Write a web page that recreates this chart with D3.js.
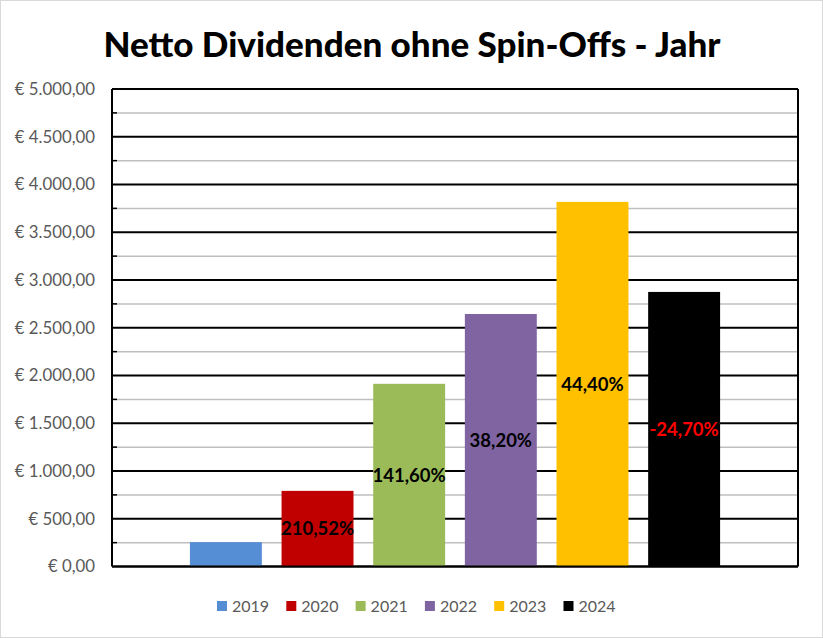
<!DOCTYPE html>
<html>
<head>
<meta charset="utf-8">
<script src="https://cdn.jsdelivr.net/npm/d3@7"></script>
<style>
  body { margin: 0; background: #fff; }
  svg { display: block; }
</style>
</head>
<body>
<svg id="chart" width="823" height="638"></svg>
<script>
// data
var years = ["2019", "2020", "2021", "2022", "2023", "2024"]
var amounts = [255, 792, 1913, 2644, 3818, 2875]
var growth = ["", "210,52%", "141,60%", "38,20%", "44,40%", "-24,70%"]
var colors = ["#558ed5", "#c00000", "#9bbb59", "#8064a2", "#ffc000", "#000000"]
var labelColors = ["#000", "#000", "#000", "#000", "#000", "#ff0000"]
var yTicks = [0, 500, 1000, 1500, 2000, 2500, 3000, 3500, 4000, 4500, 5000]
var yMinor = [250, 750, 1250, 1750, 2250, 2750, 3250, 3750, 4250, 4750]

var font = "Lato, 'Open Sans', sans-serif"
var svg = d3.select("#chart")

var plotLeft = 112, plotRight = 798, plotTop = 89, plotBottom = 566.5

var de = d3.formatLocale({decimal: ",", thousands: ".", grouping: [3], currency: ["€ ", ""]})
var fmt = de.format("$,.2f")

var y = d3.scaleLinear().domain([0, 5000]).range([plotBottom, plotTop])
var x = d3.scaleBand().domain(years).range([plotLeft, plotRight]).paddingInner(0.215).paddingOuter(0.85)

// outer frame
svg.append("rect").attr("x", 0.5).attr("y", 0.5).attr("width", 822).attr("height", 637)
  .attr("fill", "#fff").attr("stroke", "#d9d9d9").attr("stroke-width", 1)

// title
svg.append("text").attr("x", 412).attr("y", 57).attr("text-anchor", "middle")
  .attr("font-family", font).attr("font-weight", "900").attr("font-size", 35)
  .attr("fill", "#000").text("Netto Dividenden ohne Spin-Offs - Jahr")

var g = svg.append("g")

// minor grid (grey) + small black stubs
g.selectAll(".minor").data(yMinor).enter().append("line").attr("class", "minor")
  .attr("x1", plotLeft).attr("x2", plotRight).attr("y1", d => y(d)).attr("y2", d => y(d))
  .attr("stroke", "#bfbfbf").attr("stroke-width", 1.5)
g.selectAll(".stub").data(yMinor).enter().append("line").attr("class", "stub")
  .attr("x1", plotLeft).attr("x2", plotLeft + 5).attr("y1", d => y(d)).attr("y2", d => y(d))
  .attr("stroke", "#000").attr("stroke-width", 1.5)

// major grid
g.selectAll(".major").data(yTicks).enter().append("line").attr("class", "major")
  .attr("x1", plotLeft).attr("x2", plotRight).attr("y1", d => y(d)).attr("y2", d => y(d))
  .attr("stroke", "#000").attr("stroke-width", 2)

// bars
g.selectAll(".bar").data(years).enter().append("rect").attr("class", "bar")
  .attr("x", d => x(d)).attr("width", x.bandwidth())
  .attr("y", (d, i) => y(amounts[i])).attr("height", (d, i) => y(0) - y(amounts[i]))
  .attr("fill", (d, i) => colors[i])

// frame lines of plot
g.append("line").attr("x1", plotLeft).attr("x2", plotLeft).attr("y1", plotTop).attr("y2", plotBottom)
  .attr("stroke", "#000").attr("stroke-width", 2)
g.append("line").attr("x1", plotRight).attr("x2", plotRight).attr("y1", plotTop).attr("y2", plotBottom)
  .attr("stroke", "#000").attr("stroke-width", 2)
g.append("line").attr("x1", plotLeft).attr("x2", plotRight).attr("y1", plotBottom).attr("y2", plotBottom)
  .attr("stroke", "#000").attr("stroke-width", 2)

// bar labels
g.selectAll(".lab").data(years).enter().append("text").attr("class", "lab")
  .attr("x", d => x(d) + x.bandwidth() / 2)
  .attr("y", (d, i) => (y(amounts[i]) + y(0)) / 2)
  .attr("dy", "0.35em").attr("text-anchor", "middle")
  .attr("font-family", font).attr("font-weight", "bold").attr("font-size", 18.5)
  .attr("fill", (d, i) => labelColors[i])
  .text((d, i) => growth[i])

// y axis labels
g.selectAll(".ytl").data(yTicks).enter().append("text").attr("class", "ytl")
  .attr("x", 95).attr("y", d => y(d)).attr("dy", "0.35em").attr("text-anchor", "end")
  .attr("font-family", font).attr("font-size", 16.8).attr("fill", "#595959")
  .text(d => fmt(d))

// legend
var lg = svg.append("g").attr("transform", "translate(217,601)")
var item = lg.selectAll(".lg").data(years).enter().append("g")
  .attr("transform", (d, i) => "translate(" + (i * 69.3) + ",0)")
item.append("rect").attr("width", 10).attr("height", 10).attr("fill", (d, i) => colors[i])
item.append("text").attr("x", 15).attr("y", 5).attr("dy", "0.36em")
  .attr("font-family", font).attr("font-size", 16).attr("fill", "#595959").text(d => d)
</script>
</body>
</html>
